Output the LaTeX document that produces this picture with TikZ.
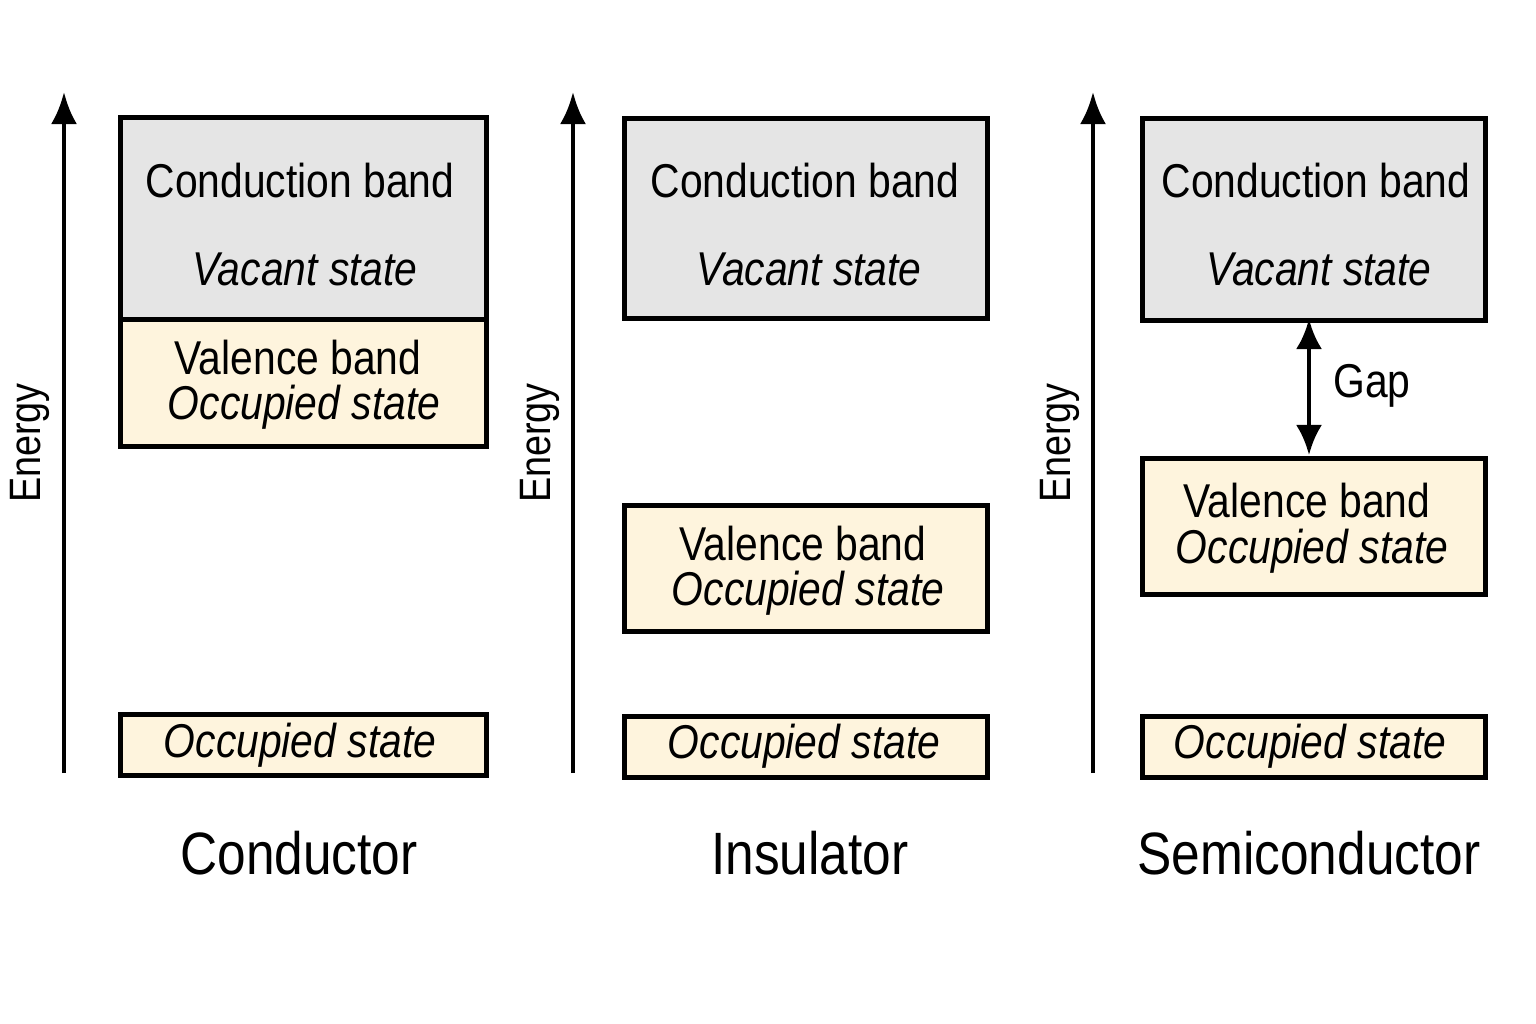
\documentclass[tikz,border=0pt]{standalone}
\usepackage{fontspec}
\setmainfont{Liberation Sans}[FakeStretch=0.86]
\usetikzlibrary{positioning,arrows.meta}

\tikzset{
  band/.style={draw,line width=1.3pt,anchor=north west,inner sep=0pt},
  cband/.style={band,fill=gray!20},
  vband/.style={band,fill=yellow!35!orange!12},
  bandtxt/.style={font=\fontsize{13.5}{15}\selectfont},
  statetxt/.style={font=\fontsize{13.5}{15}\selectfont\itshape},
  axis/.style={line width=1.3pt,-{Latex[length=3.2mm,width=2.6mm]}},
  axistxt/.style={rotate=90,font=\fontsize{12.5}{14}\selectfont},
  title/.style={font=\fontsize{17}{19}\selectfont}
}

\begin{document}
\begin{tikzpicture}[x=0.01cm,y=-0.01cm]
  \useasboundingbox (0,0) rectangle (1536,1024);
  % conductor
  \coordinate (c_bot) at (64,773);
  \coordinate (c_top) at (64,92);
  \draw[axis] (c_bot) -- (c_top);
  \node[axistxt] (c_en) at (30,443) {Energy};
  \node[cband,minimum width=3.66cm,minimum height=2.02cm] (c_cb) at (118,115) {};
  \node[vband,minimum width=3.66cm,minimum height=1.27cm] (c_vb) at (118,317) {};
  \node[vband,minimum width=3.66cm,minimum height=0.61cm] (c_os) at (118,712) {};
  \node[bandtxt] at (300,181) {Conduction band};
  \node[statetxt] at (305,269) {Vacant state};
  \node[bandtxt] at (298,358) {Valence band};
  \node[statetxt] at (304,407) {Occupied state};
  \node[statetxt] at (300,745) {Occupied state};
  \node[title] (c_t) at (299,853) {Conductor};
  % insulator
  \coordinate (i_bot) at (573,773);
  \coordinate (i_top) at (573,92);
  \draw[axis] (i_bot) -- (i_top);
  \node[axistxt] (i_en) at (540,443) {Energy};
  \node[cband,minimum width=3.63cm,minimum height=2.00cm] (i_cb) at (622,116) {};
  \node[vband,minimum width=3.63cm,minimum height=1.26cm] (i_vb) at (622,503) {};
  \node[vband,minimum width=3.63cm,minimum height=0.61cm] (i_os) at (622,714) {};
  \node[bandtxt] at (805,181) {Conduction band};
  \node[statetxt] at (809,269) {Vacant state};
  \node[bandtxt] at (803,544) {Valence band};
  \node[statetxt] at (808,593) {Occupied state};
  \node[statetxt] at (804,746) {Occupied state};
  \node[title] (i_t) at (810,853) {Insulator};
  % semiconductor
  \coordinate (s_bot) at (1093,773);
  \coordinate (s_top) at (1093,92);
  \draw[axis] (s_bot) -- (s_top);
  \node[axistxt] (s_en) at (1060,443) {Energy};
  \node[cband,minimum width=3.43cm,minimum height=2.02cm] (s_cb) at (1140,116) {};
  \node[vband,minimum width=3.43cm,minimum height=1.36cm] (s_vb) at (1140,456) {};
  \node[vband,minimum width=3.43cm,minimum height=0.61cm] (s_os) at (1140,714) {};
  \node[bandtxt] at (1316,181) {Conduction band};
  \node[statetxt] at (1319,269) {Vacant state};
  \node[bandtxt] at (1307,501) {Valence band};
  \node[statetxt] at (1312,551) {Occupied state};
  \node[statetxt] at (1310,746) {Occupied state};
  \node[title] (s_t) at (1309,853) {Semiconductor};
  \coordinate (g_top) at (1309,319);
  \coordinate (g_bot) at (1309,455);
  \draw[line width=1.3pt,{Latex[length=3mm,width=2.6mm]}-{Latex[length=3mm,width=2.6mm]}]
    (g_top) -- (g_bot);
  \node[bandtxt] (s_gap) at (1372,386) {Gap};
\end{tikzpicture}
\end{document}
